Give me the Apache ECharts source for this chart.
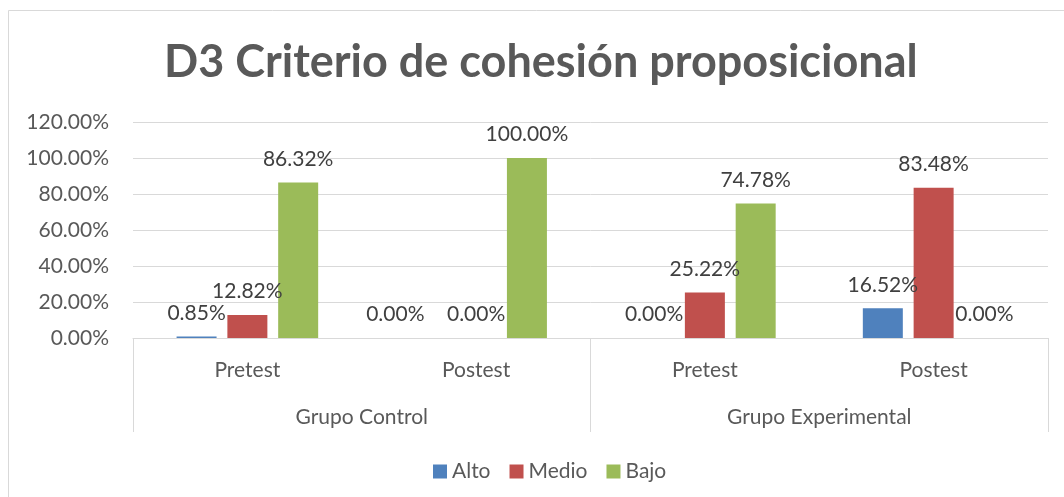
<!DOCTYPE html>
<html>
<head>
<meta charset="utf-8">
<script src="https://cdn.jsdelivr.net/npm/echarts@6/dist/echarts.min.js"></script>
<style>
html,body{margin:0;padding:0;background:#fff;}
#chart{width:1064px;height:497px;}
</style>
</head>
<body>
<div id="chart"></div>
<script>
const titleText = 'D3 Criterio de cohesión proposicional';
const categories = ['Pretest', 'Postest', 'Pretest', 'Postest'];
const groups = ['Grupo Control', 'Grupo Experimental'];
const seriesNames = ['Alto', 'Medio', 'Bajo'];
const alto = [0.85, 0.00, 0.00, 16.52];
const medio = [12.82, 0.00, 25.22, 83.48];
const bajo = [86.32, 100.00, 74.78, 0.00];
const yTicks = { min: 0, max: 120, interval: 20 };

const FONT = 'Lato';
const FS = 21;
const colors = ['#4F81BD', '#C0504D', '#9BBB59'];
const values = [alto, medio, bajo];

const chart = echarts.init(document.getElementById('chart'), null, { renderer: 'canvas' });

const series = seriesNames.map((name, i) => ({
  name: name,
  type: 'bar',
  xAxisIndex: 0,
  yAxisIndex: 0,
  data: values[i].map((v, j) => {
    // the reference nudges the first of two overlapping zero labels to the left
    if (i === 0 && v === 0 && medio[j] === 0) {
      return { value: v, label: { offset: [-30, 0] } };
    }
    return v;
  }),
  barWidth: 40,
  barGap: '27%',
  itemStyle: { color: colors[i] },
  label: {
    show: true,
    position: 'top',
    distance: 13,
    formatter: p => p.value.toFixed(2) + '%',
    color: '#404040',
    fontFamily: FONT,
    fontSize: FS
  },
  emphasis: { disabled: true },
  animation: false
}));

chart.setOption({
  animation: false,
  backgroundColor: '#ffffff',
  graphic: [{
    type: 'rect',
    shape: { x: 8.5, y: 10.5, width: 1100, height: 600 },
    style: { fill: 'none', stroke: '#d9d9d9', lineWidth: 1 },
    silent: true,
    z: -10
  }],
  title: {
    text: titleText,
    left: 164,
    top: 40,
    padding: 0,
    textStyle: {
      fontFamily: FONT,
      fontWeight: 'bold',
      fontSize: 45,
      color: '#595959'
    }
  },
  legend: {
    data: seriesNames,
    left: 428,
    top: 456,
    icon: 'rect',
    itemWidth: 14,
    itemHeight: 14,
    itemGap: 19,
    textStyle: { fontFamily: FONT, fontSize: FS, color: '#595959' }
  },
  grid: { left: 133, right: 16, top: 122, bottom: 159, containLabel: false },
  xAxis: [{
    type: 'category',
    data: categories,
    position: 'bottom',
    axisLine: { show: false },
    axisTick: { show: false },
    axisLabel: { margin: 22, fontFamily: FONT, fontSize: FS, color: '#595959' },
    splitLine: { show: false }
  }, {
    type: 'category',
    data: groups,
    position: 'bottom',
    axisLine: { show: true, lineStyle: { color: '#d9d9d9', width: 1 } },
    axisTick: { show: true, length: 94, lineStyle: { color: '#d9d9d9', width: 1 } },
    axisLabel: { margin: 69, fontFamily: FONT, fontSize: FS, color: '#595959' },
    splitLine: { show: false }
  }],
  yAxis: {
    type: 'value',
    min: yTicks.min,
    max: yTicks.max,
    interval: yTicks.interval,
    axisLine: { show: false },
    axisTick: { show: false },
    axisLabel: {
      margin: 24,
      formatter: v => v.toFixed(2) + '%',
      fontFamily: FONT,
      fontSize: FS,
      color: '#595959'
    },
    splitLine: { lineStyle: { color: '#d9d9d9', width: 1 } }
  },
  series: series
});
</script>
</body>
</html>
